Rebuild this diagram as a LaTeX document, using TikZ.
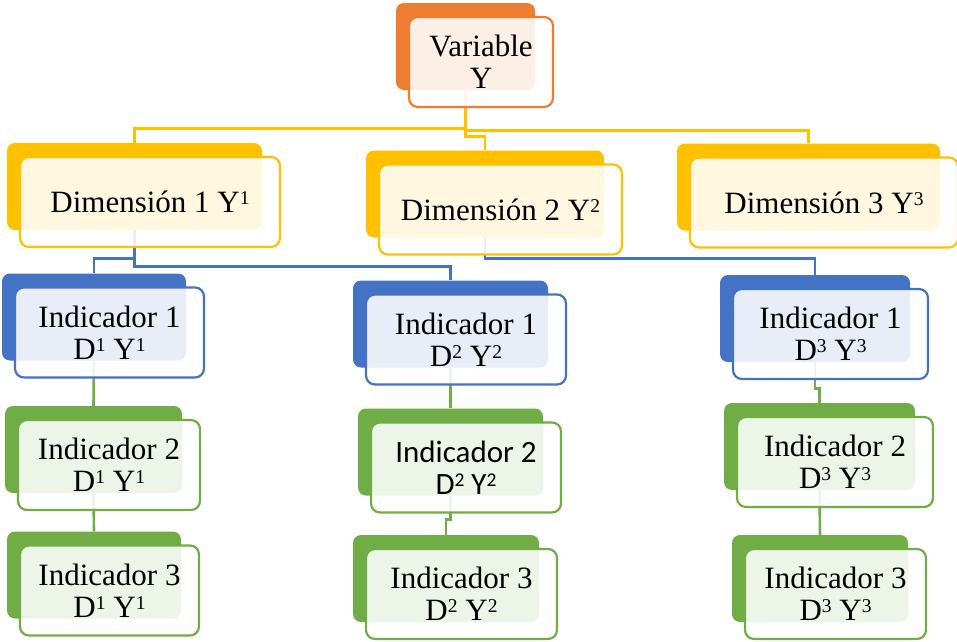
\documentclass[tikz,border=0pt]{standalone}
\usepackage{fontspec}
\setmainfont{Liberation Serif}
\newfontfamily\calibrifont{Carlito}
\usepackage{xcolor}
\usepackage{tikz}
\usetikzlibrary{positioning, calc, backgrounds}
\definecolor{varcolor}{RGB}{237, 125, 49}
\definecolor{dimcolor}{RGB}{255, 192, 0}
\definecolor{indcolor}{RGB}{68, 114, 196}
\definecolor{subcolor}{RGB}{112, 173, 71}
\newcommand{\supnum}[1]{\raisebox{8pt}{\fontsize{19.5}{19.5}\selectfont #1}}

\begin{document}
\begin{tikzpicture}[
    x=1pt, y=-1pt,
    backbox/.style={rounded corners=8pt, inner sep=0pt, minimum width=#1pt, minimum height=87pt},
    frontbox/.style={draw, line width=2.2pt, rounded corners=9pt, fill=white, fill opacity=0.88, text opacity=1,
        inner sep=0pt, minimum width=#1pt+5pt, minimum height=90pt, align=center, font=\fontsize{31}{32}\selectfont},
    link/.style={line width=2.6pt}
]
    \useasboundingbox (0,0) rectangle (957,641);

    % variable
    \node[backbox=139, fill=varcolor] (var) at (465.5,46.5) {};
    \node[frontbox=139, draw=varcolor] (var-t) at ($(var)+(15.5,15.5)$) {Variable\\Y};

    % dimensions
    \node[backbox=255, fill=dimcolor] (dim1) at (134.5,186.5) {};
    \node[frontbox=255, draw=dimcolor] (dim1-t) at ($(dim1)+(15.5,15.5)$) {Dimensión 1 Y\supnum{1}};
    \node[backbox=238, fill=dimcolor] (dim2) at (485,194) {};
    \node[frontbox=238, draw=dimcolor] (dim2-t) at ($(dim2)+(15.5,15.5)$) {Dimensión 2 Y\supnum{2}};
    \node[backbox=263, fill=dimcolor] (dim3) at (808.5,187) {};
    \node[frontbox=263, draw=dimcolor] (dim3-t) at ($(dim3)+(15.5,15.5)$) {Dimensión 3 Y\supnum{3}};

    % indicadores 1
    \node[backbox=184, fill=indcolor] (i11) at (94,317) {};
    \node[frontbox=184, draw=indcolor] (i11-t) at ($(i11)+(15.5,15.5)$) {Indicador 1\\D\supnum{1} Y\supnum{1}};
    \node[backbox=195, fill=indcolor] (i12) at (450.5,324) {};
    \node[frontbox=195, draw=indcolor] (i12-t) at ($(i12)+(15.5,15.5)$) {Indicador 1\\D\supnum{2} Y\supnum{2}};
    \node[backbox=190, fill=indcolor] (i13) at (815,318.5) {};
    \node[frontbox=190, draw=indcolor] (i13-t) at ($(i13)+(15.5,15.5)$) {Indicador 1\\D\supnum{3} Y\supnum{3}};

    % indicadores 2
    \node[backbox=177, fill=subcolor] (i21) at (93.5,449.5) {};
    \node[frontbox=177, draw=subcolor] (i21-t) at ($(i21)+(15.5,15.5)$) {Indicador 2\\D\supnum{1} Y\supnum{1}};
    \node[backbox=185, fill=subcolor] (i22) at (450.5,452) {};
    \node[frontbox=185, draw=subcolor, font=\fontsize{31}{32}\calibrifont] (i22-t) at ($(i22)+(15.5,15.5)$) {Indicador 2\\D\supnum{2} Y\supnum{2}};
    \node[backbox=191, fill=subcolor] (i23) at (819.5,446.5) {};
    \node[frontbox=191, draw=subcolor] (i23-t) at ($(i23)+(15.5,15.5)$) {Indicador 2\\D\supnum{3} Y\supnum{3}};

    % indicadores 3
    \node[backbox=174, fill=subcolor] (i31) at (94,575) {};
    \node[frontbox=174, draw=subcolor] (i31-t) at ($(i31)+(15.5,15.5)$) {Indicador 3\\D\supnum{1} Y\supnum{1}};
    \node[backbox=186, fill=subcolor] (i32) at (446,578.5) {};
    \node[frontbox=186, draw=subcolor] (i32-t) at ($(i32)+(15.5,15.5)$) {Indicador 3\\D\supnum{2} Y\supnum{2}};
    \node[backbox=176, fill=subcolor] (i33) at (820,578.5) {};
    \node[frontbox=176, draw=subcolor] (i33-t) at ($(i33)+(15.5,15.5)$) {Indicador 3\\D\supnum{3} Y\supnum{3}};

    % connectors
    \begin{scope}[on background layer]
        \draw[link, dimcolor] (var.south) -- ++(0,38) -| (dim1.north);
        \draw[link, dimcolor] (var.south) -- ++(0,40) -| (dim3.north);
        \draw[link, dimcolor] (var.south) -- ++(0,46) -| (dim2.north);
        \draw[link, indcolor] (dim1.south) -- ++(0,28) -| (i11.north);
        \draw[link, indcolor] (dim1.south) -- ++(0,36) -| (i12.north);
        \draw[link, indcolor] (dim2.south) -- ++(0,21) -| (i13.north);
        \draw[link, subcolor] (i11.south) -- (i21.north);
        \draw[link, subcolor] (i21.south) -- (i31.north);
        \draw[link, subcolor] (i12.south) -- (i22.north);
        \draw[link, subcolor] (i22.south) -- ++(0,24) -| (i32.north);
        \draw[link, subcolor] (i13.south) -- ++(0,26) -| (i23.north);
        \draw[link, subcolor] (i23.south) -- (i33.north);
    \end{scope}
\end{tikzpicture}
\end{document}
